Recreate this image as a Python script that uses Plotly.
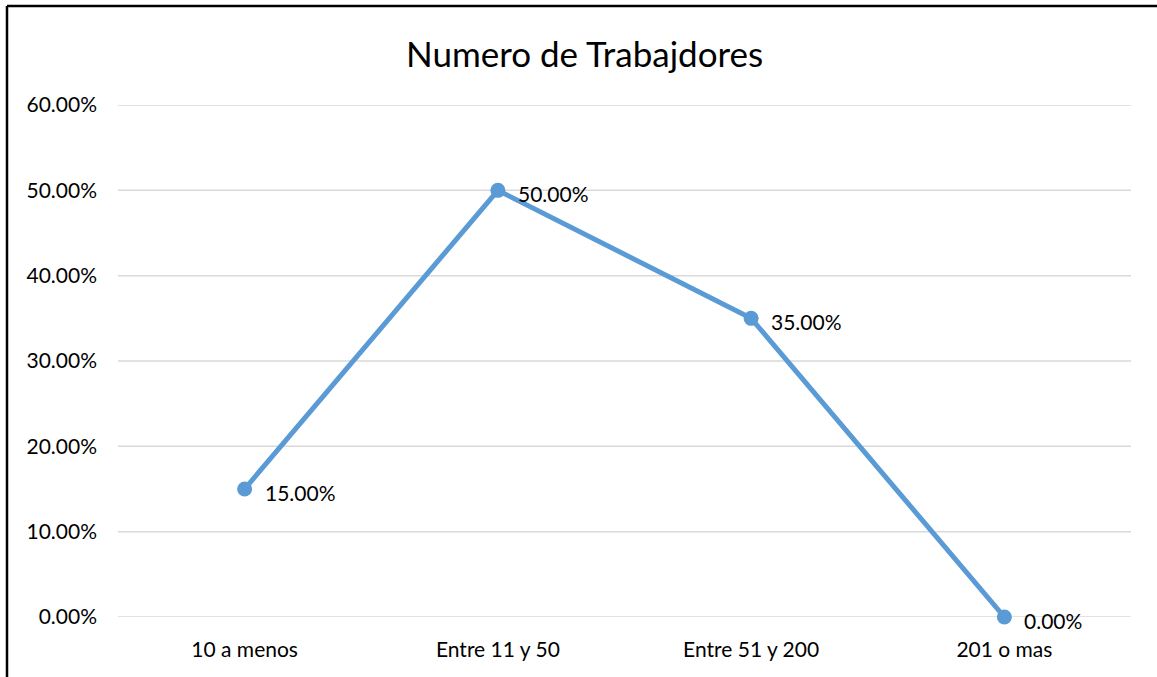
import plotly.graph_objects as go

categories = ["10 a menos", "Entre 11 y 50", "Entre 51 y 200", "201 o mas"]
values = [0.15, 0.50, 0.35, 0.00]
label_texts = ["15.00%", "50.00%", "35.00%", "0.00%"]
y_ticks = [0, 0.1, 0.2, 0.3, 0.4, 0.5, 0.6]
title_text = "Numero de Trabajdores"

FONT = "Lato"
W, H = 1157, 677
L, R, T, B = 118, 26, 105, 60

fig = go.Figure()
fig.add_trace(go.Scatter(
    x=categories, y=values, mode="lines+markers",
    line=dict(color="#5B9BD5", width=5),
    marker=dict(color="#5B9BD5", size=15),
    cliponaxis=False,
    hoverinfo="skip", showlegend=False,
))

pw = W - L - R
ph = H - T - B

annotations = []
for c, v, t in zip(categories, values, label_texts):
    annotations.append(dict(x=c, y=v, xref="x", yref="y", text=t, showarrow=False,
                            xanchor="left", yanchor="middle", xshift=18, yshift=-3,
                            font=dict(family=FONT, size=21, color="#000000")))
annotations.append(dict(x=(584 - L) / pw, y=(617 - 53) / ph, xref="paper", yref="paper",
                        text=title_text, showarrow=False, xanchor="center", yanchor="middle",
                        font=dict(family=FONT, size=35, color="#000000")))

shapes = []
for tv in y_ticks:
    shapes.append(dict(type="line", xref="paper", yref="y", x0=0, x1=1, y0=tv, y1=tv,
                       layer="below", line=dict(color="#D9D9D9", width=1.5)))

xl = (7 - L) / pw
yt = (617 - 6) / ph
shapes += [
    dict(type="line", xref="paper", yref="paper", x0=xl, x1=(W + 5 - L) / pw, y0=yt, y1=yt,
         line=dict(color="#000000", width=2.5)),
    dict(type="line", xref="paper", yref="paper", x0=xl, x1=xl, y0=yt, y1=(617 - H - 5) / ph,
         line=dict(color="#000000", width=2.5)),
]

fig.update_layout(
    width=W, height=H,
    margin=dict(l=L, r=R, t=T, b=B),
    paper_bgcolor="#FFFFFF", plot_bgcolor="#FFFFFF",
    font=dict(family=FONT, size=21, color="#000000"),
    annotations=annotations, shapes=shapes,
    xaxis=dict(type="category", range=[-0.5, 3.5], showgrid=False, zeroline=False,
               showline=False, ticks="", ticklabelstandoff=18,
               tickfont=dict(family=FONT, size=21, color="#000000")),
    yaxis=dict(range=[0, 0.6], tickvals=y_ticks,
               tickformat=".2%", showgrid=False, zeroline=False, showline=False,
               ticks="", ticklabelstandoff=20,
               tickfont=dict(family=FONT, size=21, color="#000000")),
)

fig.write_html("out.html", config={"displayModeBar": False},
               post_script="document.body.style.margin='0';")
